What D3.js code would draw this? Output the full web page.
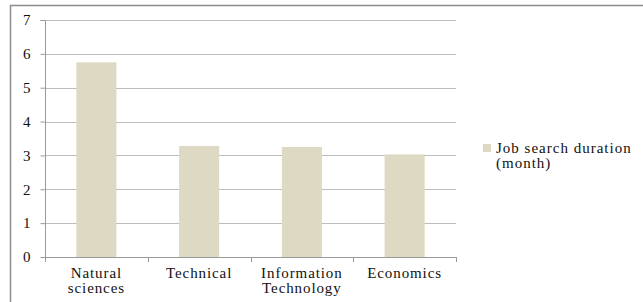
<!DOCTYPE html>
<html><head><meta charset="utf-8">
<script src="https://d3js.org/d3.v7.min.js"></script>
<style>body{margin:0;background:#fff}svg{display:block}
svg text{font-family:"Liberation Serif","Tinos","Nimbus Roman","Noto Serif","FreeSerif","DejaVu Serif","Times New Roman",Times,serif;}</style>
</head><body>
<script>
const categories = [["Natural","sciences"],["Technical"],["Information","Technology"],["Economics"]];
const values = [5.75, 3.28, 3.25, 3.03];
const yTicks = [0,1,2,3,4,5,6,7];
const seriesName = ["Job search duration","(month)"];

(function(){
const W = 643, H = 302;
const svg = d3.select("body").append("svg").attr("width", W).attr("height", H);

// outer frame
svg.append("path").attr("d", `M10.5,${H} V5.5 H${W}`).attr("fill","none").attr("stroke","#8c8c8c").attr("stroke-width",1.5);

const pl = 45, pr = 456, pt = 20, pb = 257;
const x = d3.scaleBand().domain(categories.map((d,i)=>i)).range([pl,pr]).paddingInner(0.61).paddingOuter(0.305);
const xb = d3.scaleBand().domain(categories.map((d,i)=>i)).range([pl,pr]);
const y = d3.scaleLinear().domain([0,7]).range([pb,pt]);

// gridlines
svg.append("g").selectAll("line").data(yTicks.filter(d=>d>0)).join("line")
  .attr("x1", pl).attr("x2", pr)
  .attr("y1", d=>Math.round(y(d))+0.5).attr("y2", d=>Math.round(y(d))+0.5)
  .attr("stroke","#bdbdbd").attr("stroke-width",1);

// bars
svg.append("g").selectAll("rect").data(values).join("rect")
  .attr("x",(d,i)=>x(i)).attr("width",x.bandwidth())
  .attr("y",d=>y(d)).attr("height",d=>y(0)-y(d))
  .attr("fill","#ddd9c3");

// y axis
const yAxis = d3.axisLeft(y).tickValues(yTicks).tickSize(5).tickPadding(10).tickFormat(d3.format("d"));
const gy = svg.append("g").attr("transform",`translate(${pl+0.5},0)`).call(yAxis);
gy.attr("font-family",null);
gy.select(".domain").attr("stroke","#9a9a9a").attr("d",`M-5,${y(7)+0.5}H0V${y(0)+0.5}`);
gy.selectAll(".tick line").attr("stroke","#9a9a9a");
gy.selectAll(".tick text").attr("font-size",15).attr("fill","#111");

// x axis baseline and ticks
const gx = svg.append("g");
gx.append("line").attr("x1",pl).attr("x2",pr).attr("y1",pb+0.5).attr("y2",pb+0.5).attr("stroke","#9a9a9a");
const bounds = categories.map((d,i)=>xb(i)).concat([pr]);
gx.selectAll("line.t").data(bounds).join("line").attr("class","t")
  .attr("x1",d=>Math.round(d)+0.5).attr("x2",d=>Math.round(d)+0.5)
  .attr("y1",pb).attr("y2",pb+5).attr("stroke","#9a9a9a");

// x labels
const lbl = gx.selectAll("text").data(categories).join("text")
  .attr("text-anchor","middle").attr("font-size",15)
  .attr("letter-spacing","0.9px").attr("fill","#111");
lbl.each(function(d,i){
  const t = d3.select(this);
  d.forEach((s,k)=>t.append("tspan").attr("x",xb(i)+xb.bandwidth()/2).attr("y",278+k*14.5).text(s));
});

// legend
const lg = svg.append("g");
lg.append("rect").attr("x",483).attr("y",144).attr("width",8).attr("height",8).attr("fill","#ddd9c3");
const lt = lg.append("text").attr("font-size",15).attr("letter-spacing","1px").attr("fill","#111");
seriesName.forEach((s,k)=>lt.append("tspan").attr("x",496).attr("y",153+k*15).text(s));
})();
</script>
</body></html>
